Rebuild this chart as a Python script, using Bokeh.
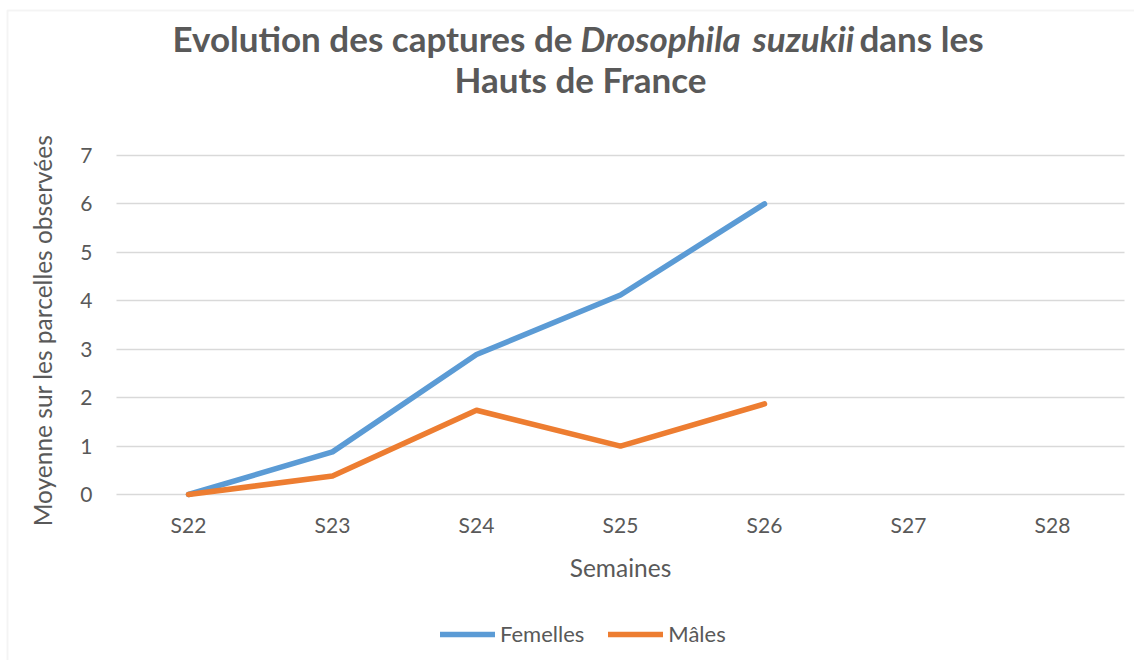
from bokeh.plotting import figure
from bokeh.models import Label, Legend, LegendItem, Range1d, FixedTicker, BoxAnnotation, Grid
from bokeh.embed import file_html
from bokeh.resources import INLINE

weeks = ["S22", "S23", "S24", "S25", "S26", "S27", "S28"]
obs_weeks = ["S22", "S23", "S24", "S25", "S26"]
femelles = [0, 0.88, 2.89, 4.12, 6.0]
males = [0, 0.38, 1.74, 1.0, 1.87]
y_ticks = [0, 1, 2, 3, 4, 5, 6, 7]

BLUE = "#5B9BD5"
ORANGE = "#ED7D31"
TXT = "#595959"
GRID = "#D9D9D9"
FONT = "Lato"

W, H = 1134, 660
PLOT_L, PLOT_R, PLOT_B, PLOT_T = 116, 1124, 494, 155   # pixel box of the data area
cat_px = (PLOT_R - PLOT_L) / len(weeks)
unit_px = (PLOT_B - PLOT_T) / 7.0

# category centres on the library's numeric scale
week_pos = {w: i + 0.5 for i, w in enumerate(weeks)}
obs_x = [week_pos[w] for w in obs_weeks]

x_range = Range1d(-PLOT_L / cat_px, (W - PLOT_L) / cat_px)
y_range = Range1d(-(H - PLOT_B) / unit_px, PLOT_B / unit_px)

p = figure(width=W, height=H, x_range=x_range, y_range=y_range,
           output_backend="svg", toolbar_location=None,
           min_border=0, min_border_left=0, min_border_right=0,
           min_border_top=0, min_border_bottom=0)
p.outline_line_color = None
p.background_fill_color = "white"
p.border_fill_color = "white"

xa = p.xaxis[0]
ya = p.yaxis[0]
xa.fixed_location = 0
ya.fixed_location = 0
xa.ticker = FixedTicker(ticks=list(week_pos.values()))
xa.major_label_overrides = {v: k for k, v in week_pos.items()}
ya.ticker = FixedTicker(ticks=y_ticks)

for ax in (xa, ya):
    ax.axis_line_color = None
    ax.major_tick_line_color = None
    ax.minor_tick_line_color = None
    ax.major_label_text_font = FONT
    ax.major_label_text_font_size = "21px"
    ax.major_label_text_color = TXT
    ax.axis_label_text_font = FONT
    ax.axis_label_text_font_size = "24.5px"
    ax.axis_label_text_font_style = "normal"
    ax.axis_label_text_color = TXT

xa.major_label_standoff = 11
ya.major_label_standoff = 18
ya.axis_label = "Moyenne sur les parcelles observées"
ya.axis_label_standoff = 20

# x axis title, centred under the data area
p.add_layout(Label(x=(PLOT_L + PLOT_R) / 2, y=H - 567, x_units="screen", y_units="screen",
                   text="Semaines", text_font=FONT, text_font_size="24.5px",
                   text_color=TXT, text_baseline="middle", text_align="center"))

# horizontal gridlines limited to the data area
p.xgrid.grid_line_color = None
p.ygrid.grid_line_color = None
g = Grid(dimension=1, ticker=FixedTicker(ticks=y_ticks), grid_line_color=GRID, grid_line_width=1.5)
if "cross_bounds" in Grid.properties():
    g.cross_bounds = (0, len(weeks))
    p.add_layout(g)
else:
    p.segment(x0=0, x1=len(weeks), y0=y_ticks, y1=y_ticks, line_color=GRID, line_width=1.5)

r1 = p.line(obs_x, femelles, line_color=BLUE, line_width=5.5, line_cap="round", line_join="round")
r2 = p.line(obs_x, males, line_color=ORANGE, line_width=5.5, line_cap="round", line_join="round")

legend = Legend(items=[LegendItem(label="Femelles", renderers=[r1]),
                       LegendItem(label="Mâles", renderers=[r2])],
                orientation="horizontal", location=(440, 13),
                glyph_width=55, glyph_height=24, label_standoff=5, spacing=24,
                padding=0, margin=0, border_line_color=None, background_fill_alpha=0,
                label_text_font=FONT, label_text_font_size="22px", label_text_color=TXT)
p.add_layout(legend, "center")

# chart border (left and top edges visible in the reference)
p.add_layout(BoxAnnotation(left=7, right=W + 50, top=H - 10, bottom=-50,
                           left_units="screen", right_units="screen",
                           top_units="screen", bottom_units="screen",
                           fill_alpha=0, line_color=GRID, line_width=2))

TITLE_SHIFT = 15

def fy(py):
    return H - py + TITLE_SHIFT

title_parts = [
    ("Evolution des captures de", 172, 52, "bold"),
    ("Drosophila", 580, 52, "bold italic"),
    ("suzukii", 752, 52, "bold italic"),
    ("dans les", 859, 52, "bold"),
]
for txt, px, py, style in title_parts:
    p.add_layout(Label(x=px, y=fy(py), x_units="screen", y_units="screen", text=txt,
                       text_font=FONT, text_font_size="35px", text_font_style=style,
                       text_color=TXT, text_baseline="alphabetic", text_align="left"))
p.add_layout(Label(x=580, y=fy(93), x_units="screen", y_units="screen", text="Hauts de France",
                   text_font=FONT, text_font_size="35px", text_font_style="bold",
                   text_color=TXT, text_baseline="alphabetic", text_align="center"))

open("out.html", "w").write(file_html(p, INLINE))
